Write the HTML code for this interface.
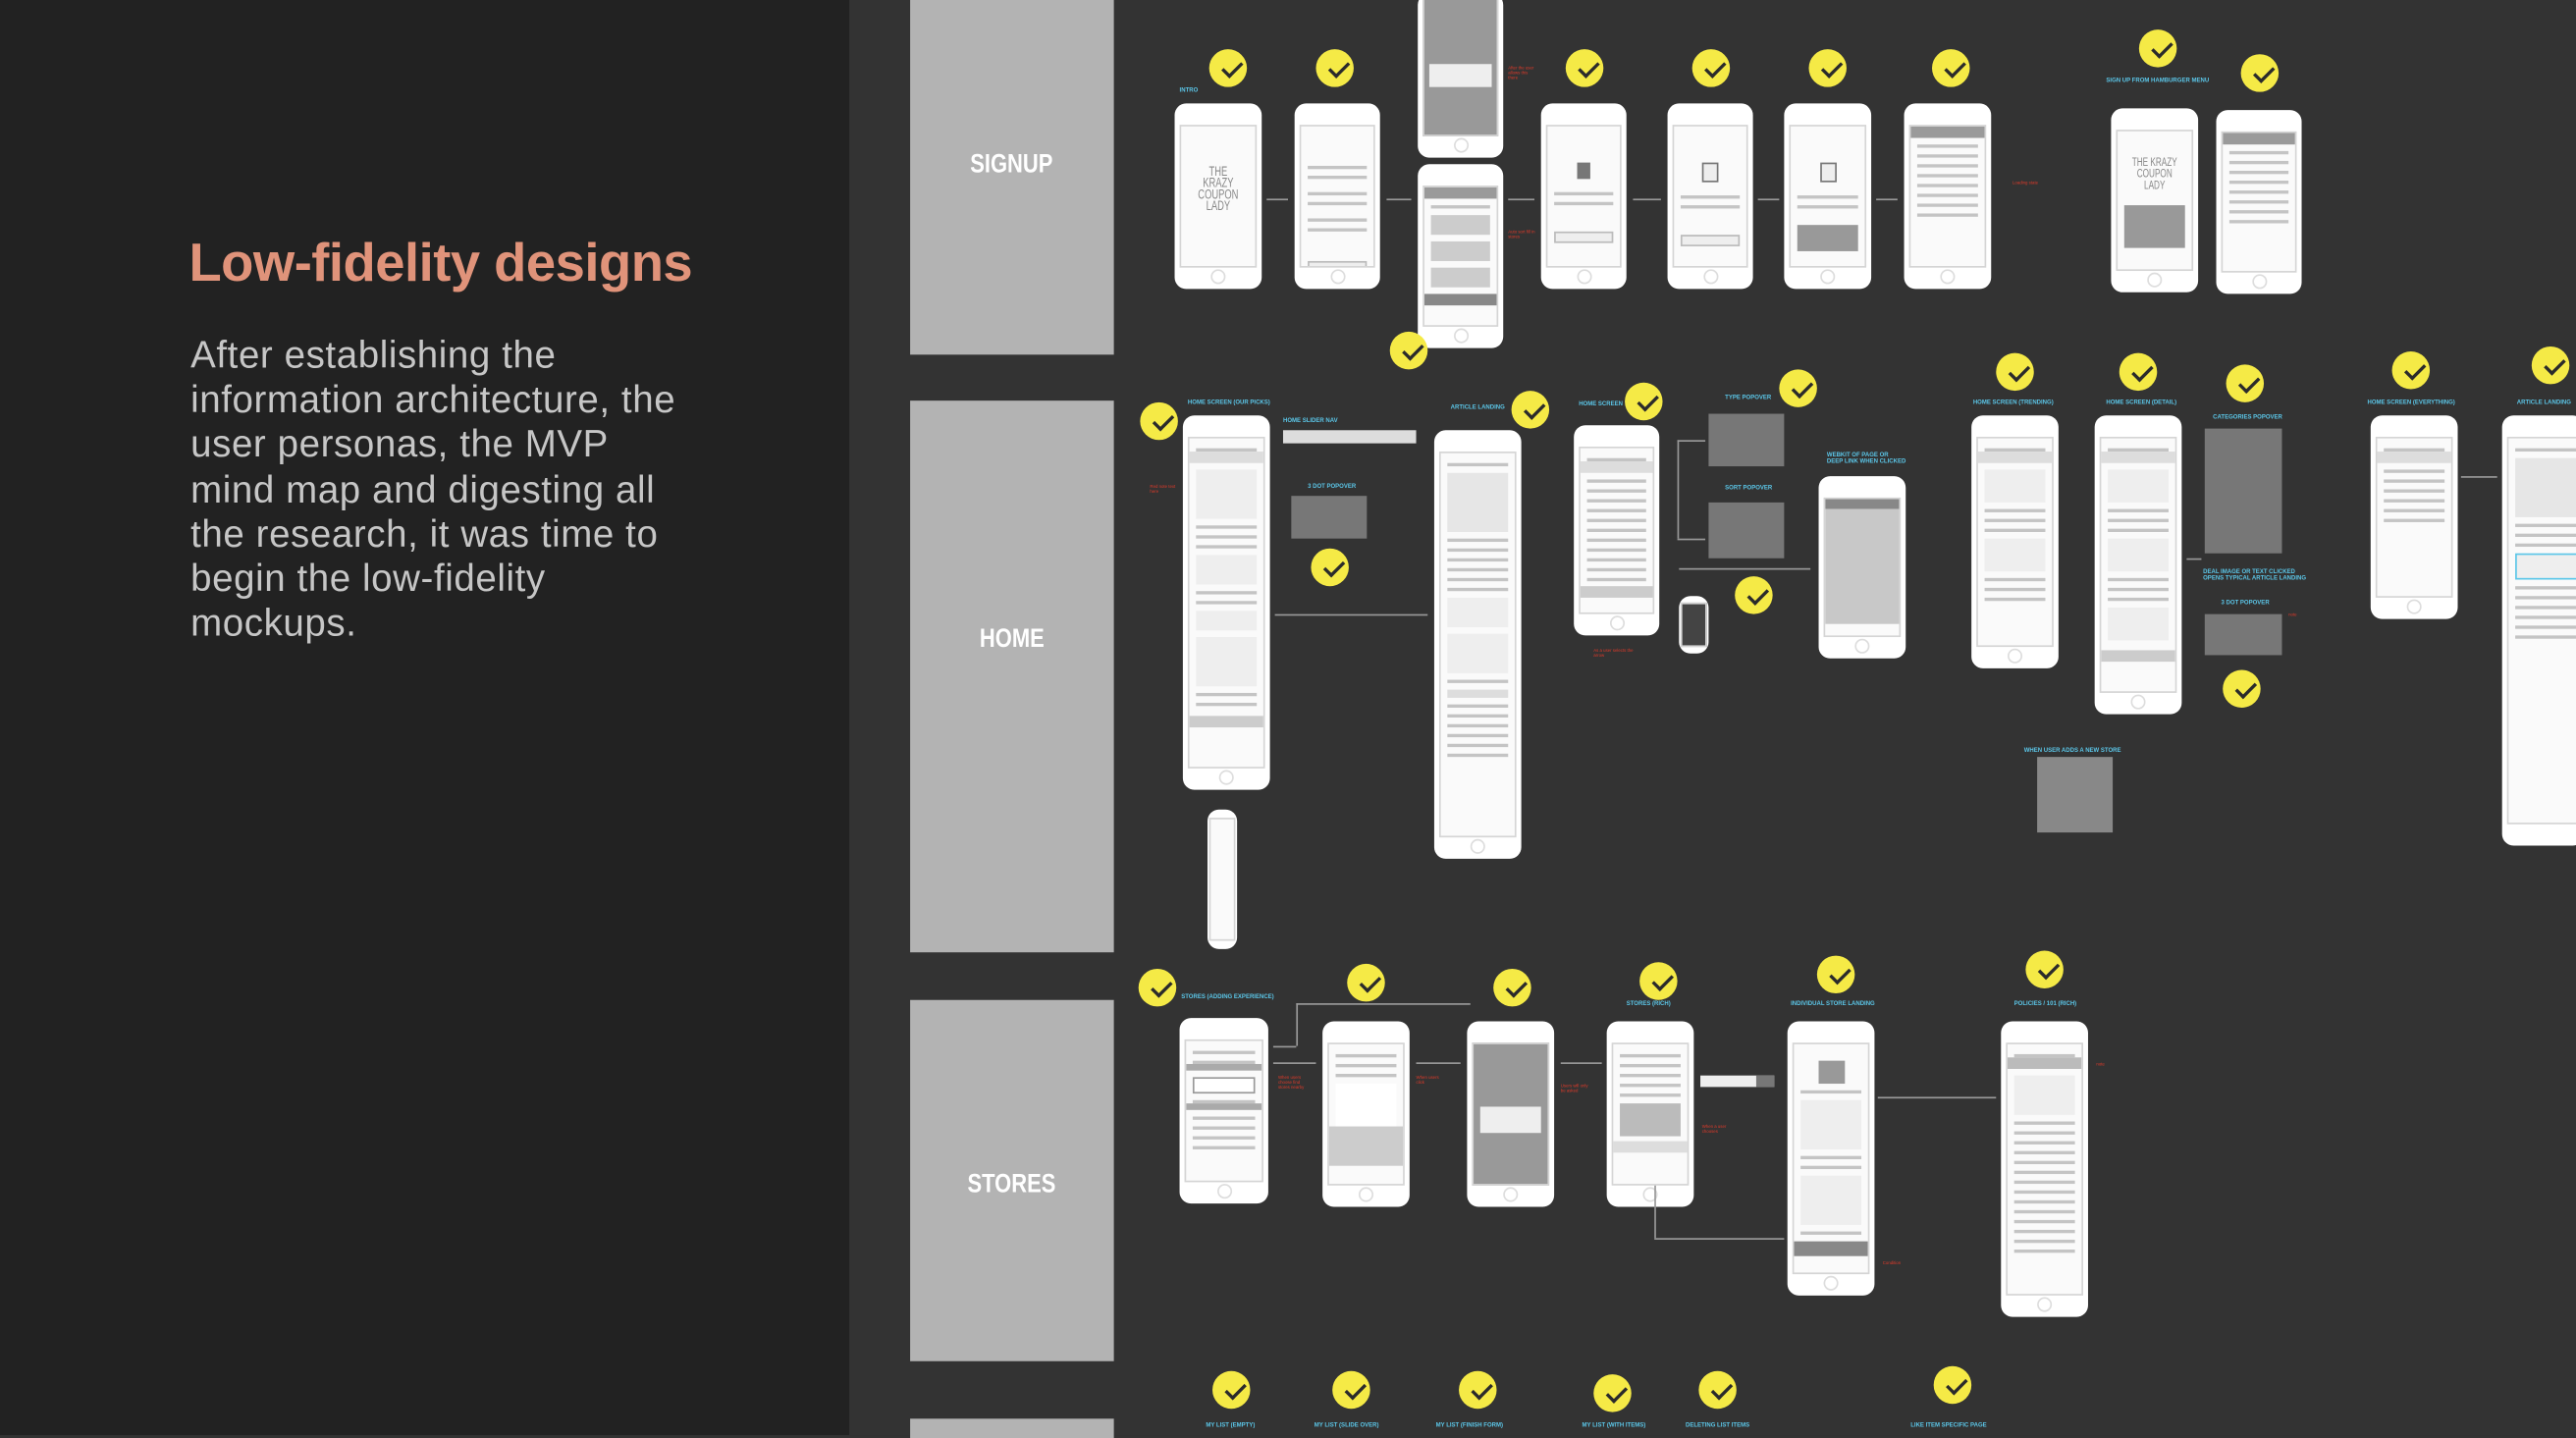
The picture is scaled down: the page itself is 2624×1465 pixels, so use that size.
<!DOCTYPE html>
<html><head><meta charset="utf-8"><style>
html,body{margin:0;padding:0;width:2624px;height:1462px;overflow:hidden;background:#333;}
#w{position:absolute;left:0;top:0;width:1568px;height:874px;transform:scale(1.67347,1.6728);transform-origin:0 0;font-family:"Liberation Sans",sans-serif;}
#left{position:absolute;left:0;top:0;width:517px;height:874px;background:#222;}
#right{position:absolute;left:517px;top:0;width:1051px;height:874px;background:#333;}
h1{position:absolute;left:115px;top:142px;margin:0;font-size:32.5px;font-weight:bold;color:#e0937a;letter-spacing:-0.3px;white-space:nowrap;}
.body{position:absolute;left:116px;top:203px;width:400px;font-size:23px;letter-spacing:0.35px;line-height:27.2px;color:#c6c6c6;white-space:nowrap;}
.bar{position:absolute;left:554px;width:124px;background:#b3b3b3;}
.bl{position:absolute;left:554px;width:124px;text-align:center;color:#fff;font-weight:bold;font-size:16px;line-height:16px;}
.bl span{display:inline-block;transform:scaleX(0.82);}
.p{position:absolute;background:#fff;border-radius:7px;}
.p .s{position:absolute;left:3px;right:3px;top:13px;bottom:13px;border:0.6px solid #d5d5d5;background:#fafafa;overflow:hidden;}
.p .h{position:absolute;left:50%;bottom:3px;width:7px;height:7px;margin-left:-4.5px;border:1px solid #ddd;border-radius:50%;}
.p .s i{display:block;height:2px;background:#c4c4c4;margin:4px 4px 0;}
.p .s b{display:block;height:10px;background:#ddd;margin:4px 4px 0;}
.p .s u{display:block;height:7px;background:#9a9a9a;margin:0;}
.g{position:absolute;background:#888;}
.c{position:absolute;width:23px;height:23px;border-radius:50%;background:#f5ea46;margin:-11.5px 0 0 -11.5px;}
.c::after{content:"";position:absolute;left:6px;top:4px;width:10px;height:5px;border-left:2.6px solid #2b2b2b;border-bottom:2.6px solid #2b2b2b;transform:rotate(-45deg) translate(-1px,4px);}
.l{position:absolute;height:0;border-top:0.7px solid #999;}
.v{position:absolute;width:0;border-left:0.7px solid #999;}
.t{position:absolute;font-size:3.6px;font-weight:bold;color:#5bc6e8;white-space:nowrap;}
.r{position:absolute;font-size:2.6px;color:#e03a2a;width:18px;line-height:3.2px;}
</style></head><body><div id="w">
<div id="left"></div><div id="right"></div>
<h1>Low-fidelity designs</h1>
<div class="body">After establishing the<br>information architecture, the<br>user personas, the MVP<br>mind map and digesting all<br>the research, it was time to<br>begin the low-fidelity<br>mockups.</div>

<div class="bar" style="top:0;height:216px"></div>
<div class="bar" style="top:244px;height:336px"></div>
<div class="bar" style="top:609px;height:220px"></div>
<div class="bar" style="top:864px;height:12px"></div>
<div class="bl" style="top:93px"><span>SIGNUP</span></div>
<div class="bl" style="top:382px"><span>HOME</span></div>
<div class="bl" style="top:714px"><span>STORES</span></div>

<!-- SIGNUP row -->
<div class="t" style="left:718px;top:53px">INTRO</div>
<div class="p" style="left:715px;top:63px;width:53px;height:113px"><div class="s"><div style="font-size:8px;color:#888;text-align:center;margin-top:24px;line-height:7px;transform:scaleX(.7)">THE<br>KRAZY<br>COUPON<br>LADY</div></div><div class="h"></div></div>
<div class="p" style="left:788px;top:63px;width:52px;height:113px"><div class="s"><i style="margin-top:24px"></i><i></i><i style="margin-top:8px"></i><i></i><i style="margin-top:8px"></i><i></i><b style="margin-top:18px;height:5px;background:#eee;border:0.5px solid #bbb"></b></div><div class="h"></div></div>
<div class="p" style="left:863px;top:-4px;width:52px;height:100px"><div class="s" style="top:0;background:#999"><div style="background:#eee;margin:42px 3px 0;height:14px"></div></div><div class="h"></div></div>
<div class="p" style="left:863px;top:100px;width:52px;height:112px"><div class="s"><u></u><i></i><b style="height:12px;background:#ccc"></b><b style="height:12px;background:#ccc"></b><b style="height:12px;background:#ccc"></b><u style="margin-top:4px;background:#888"></u></div><div class="h"></div></div>
<div class="p" style="left:938px;top:63px;width:52px;height:113px"><div class="s"><b style="width:8px;margin:22px auto 0;background:#777"></b><i style="margin-top:8px"></i><i></i><b style="margin-top:16px;height:5px;background:#eee;border:0.5px solid #bbb"></b></div><div class="h"></div></div>
<div class="p" style="left:1015px;top:63px;width:52px;height:113px"><div class="s"><b style="width:8px;margin:22px auto 0;background:#eee;border:0.5px solid #777"></b><i style="margin-top:8px"></i><i></i><b style="margin-top:16px;height:5px;background:#eee;border:0.5px solid #bbb"></b></div><div class="h"></div></div>
<div class="p" style="left:1086px;top:63px;width:53px;height:113px"><div class="s"><b style="width:8px;margin:22px auto 0;background:#eee;border:0.5px solid #777"></b><i style="margin-top:8px"></i><i></i><b style="margin-top:10px;height:16px;background:#999"></b></div><div class="h"></div></div>
<div class="p" style="left:1159px;top:63px;width:53px;height:113px"><div class="s"><u></u><i></i><i></i><i></i><i></i><i></i><i></i><i></i><i></i></div><div class="h"></div></div>
<div class="t" style="left:1282px;top:47px">SIGN UP FROM HAMBURGER MENU</div>
<div class="p" style="left:1285px;top:66px;width:53px;height:112px"><div class="s"><div style="font-size:7px;color:#888;text-align:center;margin-top:16px;line-height:7px;transform:scaleX(.7)">THE KRAZY<br>COUPON<br>LADY</div><b style="margin-top:8px;height:26px;background:#999"></b></div><div class="h"></div></div>
<div class="p" style="left:1349px;top:67px;width:52px;height:112px"><div class="s"><u></u><i></i><i></i><i></i><i></i><i></i><i></i><i></i><i></i></div><div class="h"></div></div>
<div class="l" style="left:771px;top:121px;width:13px"></div>
<div class="l" style="left:844px;top:121px;width:15px"></div>
<div class="l" style="left:918px;top:121px;width:16px"></div>
<div class="l" style="left:994px;top:121px;width:17px"></div>
<div class="l" style="left:1070px;top:121px;width:13px"></div>
<div class="l" style="left:1142px;top:121px;width:13px"></div>
<div class="r" style="left:918px;top:40px">After the user allows this there</div>
<div class="r" style="left:918px;top:140px">Auto sort fill in stores</div>
<div class="r" style="left:1225px;top:110px">Loading state</div>
<div class="c" style="left:747px;top:41px"></div><div class="c" style="left:812px;top:41px"></div>
<div class="c" style="left:964px;top:41px"></div><div class="c" style="left:1041px;top:41px"></div>
<div class="c" style="left:1112px;top:41px"></div><div class="c" style="left:1187px;top:41px"></div>
<div class="c" style="left:1313px;top:29px"></div><div class="c" style="left:1375px;top:44px"></div>
<div class="c" style="left:857px;top:213px"></div>

<!-- HOME row -->
<div class="t" style="left:723px;top:243px">HOME SCREEN (OUR PICKS)</div>
<div class="t" style="left:781px;top:254px">HOME SLIDER NAV</div>
<div class="t" style="left:796px;top:294px">3 DOT POPOVER</div>
<div class="t" style="left:883px;top:246px">ARTICLE LANDING</div>
<div class="t" style="left:961px;top:244px">HOME SCREEN</div>
<div class="t" style="left:1050px;top:240px">TYPE POPOVER</div>
<div class="t" style="left:1050px;top:295px">SORT POPOVER</div>
<div class="t" style="left:1112px;top:275px">WEBKIT OF PAGE OR<br>DEEP LINK WHEN CLICKED</div>
<div class="t" style="left:1201px;top:243px">HOME SCREEN (TRENDING)</div>
<div class="t" style="left:1282px;top:243px">HOME SCREEN (DETAIL)</div>
<div class="t" style="left:1347px;top:252px">CATEGORIES POPOVER</div>
<div class="t" style="left:1341px;top:346px">DEAL IMAGE OR TEXT CLICKED<br>OPENS TYPICAL ARTICLE LANDING</div>
<div class="t" style="left:1352px;top:365px">3 DOT POPOVER</div>
<div class="t" style="left:1232px;top:455px">WHEN USER ADDS A NEW STORE</div>
<div class="t" style="left:1441px;top:243px">HOME SCREEN (EVERYTHING)</div>
<div class="t" style="left:1532px;top:243px">ARTICLE LANDING</div>
<div class="p" style="left:720px;top:253px;width:53px;height:228px"><div class="s"><i style="margin-top:6px"></i><u style="background:#ddd"></u><b style="height:30px;background:#eee"></b><i></i><i></i><i></i><b style="height:18px;background:#eee"></b><i></i><i></i><b style="height:12px;background:#eee"></b><b style="height:30px;background:#eee"></b><i></i><i></i><u style="margin-top:6px;background:#ccc"></u></div><div class="h"></div></div>
<div class="p" style="left:735px;top:493px;width:18px;height:85px"><div class="s" style="top:5px;bottom:5px;left:1px;right:1px"></div></div>
<div class="g" style="left:781px;top:262px;width:81px;height:8px;background:#ddd"></div>
<div class="g" style="left:786px;top:302px;width:46px;height:26px;background:#777"></div>
<div class="p" style="left:873px;top:262px;width:53px;height:261px"><div class="s"><i style="margin-top:6px"></i><b style="height:36px;background:#e6e6e6"></b><i></i><i></i><i></i><i></i><i></i><i></i><b style="height:18px;background:#eee"></b><b style="height:24px;background:#eee"></b><i></i><b style="height:5px"></b><i></i><i></i><i></i><i></i><i></i><i></i></div><div class="h"></div></div>
<div class="p" style="left:958px;top:259px;width:52px;height:128px"><div class="s"><i style="margin-top:6px"></i><u style="background:#ddd"></u><i></i><i></i><i></i><i></i><i></i><i></i><i></i><i></i><i></i><i></i><i></i><u style="margin-top:3px;background:#ccc"></u></div><div class="h"></div></div>
<div class="p" style="left:1022px;top:363px;width:18px;height:35px"><div class="s" style="top:4px;bottom:4px;left:1px;right:1px;background:#444"></div></div>
<div class="g" style="left:1040px;top:252px;width:46px;height:32px;background:#777"></div>
<div class="g" style="left:1040px;top:306px;width:46px;height:34px;background:#777"></div>
<div class="p" style="left:1107px;top:290px;width:53px;height:111px"><div class="s"><b style="height:6px;background:#888;margin:0"></b><b style="height:70px;background:#c8c8c8;margin:0"></b></div><div class="h"></div></div>
<div class="p" style="left:1200px;top:253px;width:53px;height:154px"><div class="s"><i style="margin-top:6px"></i><u style="background:#ddd"></u><b style="height:20px;background:#eee"></b><i></i><i></i><i></i><b style="height:20px;background:#eee"></b><i></i><i></i><i></i></div><div class="h"></div></div>
<div class="p" style="left:1275px;top:253px;width:53px;height:182px"><div class="s"><i style="margin-top:6px"></i><u style="background:#ddd"></u><b style="height:20px;background:#eee"></b><i></i><i></i><i></i><b style="height:20px;background:#eee"></b><i></i><i></i><i></i><b style="height:20px;background:#eee"></b><u style="margin-top:6px;background:#ccc"></u></div><div class="h"></div></div>
<div class="g" style="left:1342px;top:261px;width:47px;height:76px;background:#777"></div>
<div class="g" style="left:1342px;top:374px;width:47px;height:25px;background:#777"></div>
<div class="g" style="left:1240px;top:461px;width:46px;height:46px;background:#888"></div>
<div class="p" style="left:1443px;top:253px;width:53px;height:124px"><div class="s"><i style="margin-top:6px"></i><u style="background:#ddd"></u><i></i><i></i><i></i><i></i><i></i><i></i></div><div class="h"></div></div>
<div class="p" style="left:1523px;top:253px;width:50px;height:262px"><div class="s" style="right:-3px"><i style="margin-top:6px"></i><b style="height:36px;background:#e6e6e6"></b><i></i><i></i><i></i><b style="height:14px;background:#eee;border:0.5px solid #5bc6e8"></b><i></i><i></i><i></i><i></i><i></i><i></i></div></div>
<div class="l" style="left:776px;top:374px;width:93px"></div>
<div class="l" style="left:1022px;top:346px;width:80px"></div>
<div class="v" style="left:1021px;top:268px;height:60px"></div>
<div class="l" style="left:1021px;top:268px;width:17px"></div>
<div class="l" style="left:1021px;top:328px;width:17px"></div>
<div class="l" style="left:1498px;top:290px;width:22px"></div>
<div class="l" style="left:1331px;top:340px;width:9px"></div>
<div class="r" style="left:700px;top:295px">Red note text here</div>
<div class="r" style="left:970px;top:395px;width:30px">As a user selects the arrow</div>
<div class="r" style="left:1393px;top:373px;width:30px">note</div>
<div class="c" style="left:705px;top:256px"></div><div class="c" style="left:809px;top:345px"></div>
<div class="c" style="left:931px;top:249px"></div><div class="c" style="left:1000px;top:244px"></div>
<div class="c" style="left:1094px;top:236px"></div><div class="c" style="left:1067px;top:362px"></div>
<div class="c" style="left:1226px;top:226px"></div><div class="c" style="left:1301px;top:226px"></div>
<div class="c" style="left:1366px;top:233px"></div><div class="c" style="left:1364px;top:419px"></div>
<div class="c" style="left:1467px;top:225px"></div><div class="c" style="left:1552px;top:222px"></div>

<!-- STORES row -->
<div class="t" style="left:719px;top:605px">STORES (ADDING EXPERIENCE)</div>
<div class="t" style="left:990px;top:609px">STORES (RICH)</div>
<div class="t" style="left:1090px;top:609px">INDIVIDUAL STORE LANDING</div>
<div class="t" style="left:1226px;top:609px">POLICIES / 101 (RICH)</div>
<div class="p" style="left:718px;top:620px;width:54px;height:113px"><div class="s"><i style="margin-top:6px"></i><i></i><u style="background:#aaa;height:4px"></u><b style="height:8px;background:#fff;border:0.5px solid #999"></b><i></i><u style="background:#aaa;height:4px"></u><i></i><i></i><i></i><i></i></div><div class="h"></div></div>
<div class="p" style="left:805px;top:622px;width:53px;height:113px"><div class="s"><i style="margin-top:6px"></i><i></i><i></i><b style="height:26px;background:#fff"></b><b style="height:24px;background:#ccc;margin:0"></b></div><div class="h"></div></div>
<div class="p" style="left:893px;top:622px;width:53px;height:113px"><div class="s" style="background:#999"><b style="height:16px;background:#eee;margin:38px 4px 0"></b></div><div class="h"></div></div>
<div class="p" style="left:978px;top:622px;width:53px;height:113px"><div class="s"><i style="margin-top:6px"></i><i></i><i></i><i></i><i></i><b style="height:20px;background:#bbb"></b><u style="margin-top:3px;background:#ddd"></u></div><div class="h"></div></div>
<div class="g" style="left:1035px;top:655px;width:45px;height:7px;background:#eee"></div>
<div class="g" style="left:1069px;top:655px;width:11px;height:7px;background:#777"></div>
<div class="p" style="left:1088px;top:622px;width:53px;height:167px"><div class="s"><b style="width:16px;height:14px;margin:10px auto 0;background:#999"></b><i></i><b style="height:30px;background:#eee"></b><i></i><i></i><b style="height:30px;background:#eee"></b><i></i><u style="margin-top:4px;background:#888;height:9px"></u></div><div class="h"></div></div>
<div class="p" style="left:1218px;top:622px;width:53px;height:180px"><div class="s"><i style="margin-top:6px"></i><u style="background:#bbb"></u><b style="height:24px;background:#eee"></b><i></i><i></i><i></i><i></i><i></i><i></i><i></i><i></i><i></i><i></i><i></i><i></i><i></i><i></i></div><div class="h"></div></div>
<div class="l" style="left:775px;top:637px;width:14px"></div>
<div class="v" style="left:789px;top:611px;height:26px"></div>
<div class="l" style="left:789px;top:611px;width:106px"></div>
<div class="l" style="left:775px;top:647px;width:26px"></div>
<div class="l" style="left:862px;top:647px;width:27px"></div>
<div class="l" style="left:950px;top:647px;width:25px"></div>
<div class="v" style="left:1007px;top:722px;height:32px"></div>
<div class="l" style="left:1007px;top:754px;width:79px"></div>
<div class="l" style="left:1143px;top:668px;width:72px"></div>
<div class="r" style="left:778px;top:655px">When users choose find stores nearby</div>
<div class="r" style="left:862px;top:655px">When users click</div>
<div class="r" style="left:950px;top:660px">Users will only be asked</div>
<div class="r" style="left:1036px;top:685px">When a user chooses</div>
<div class="r" style="left:1146px;top:768px;width:30px">Condition</div>
<div class="r" style="left:1276px;top:647px;width:28px">note</div>
<div class="c" style="left:704px;top:601px"></div><div class="c" style="left:831px;top:598px"></div>
<div class="c" style="left:920px;top:601px"></div><div class="c" style="left:1009px;top:597px"></div>
<div class="c" style="left:1117px;top:593px"></div><div class="c" style="left:1244px;top:590px"></div>

<!-- bottom -->
<div class="c" style="left:749px;top:846px"></div><div class="c" style="left:822px;top:846px"></div>
<div class="c" style="left:899px;top:846px"></div><div class="c" style="left:981px;top:848px"></div>
<div class="c" style="left:1045px;top:846px"></div><div class="c" style="left:1188px;top:843px"></div>
<div class="t" style="left:734px;top:866px">MY LIST (EMPTY)</div>
<div class="t" style="left:800px;top:866px">MY LIST (SLIDE OVER)</div>
<div class="t" style="left:874px;top:866px">MY LIST (FINISH FORM)</div>
<div class="t" style="left:963px;top:866px">MY LIST (WITH ITEMS)</div>
<div class="t" style="left:1026px;top:866px">DELETING LIST ITEMS</div>
<div class="t" style="left:1163px;top:866px">LIKE ITEM SPECIFIC PAGE</div>
</div></body></html>
